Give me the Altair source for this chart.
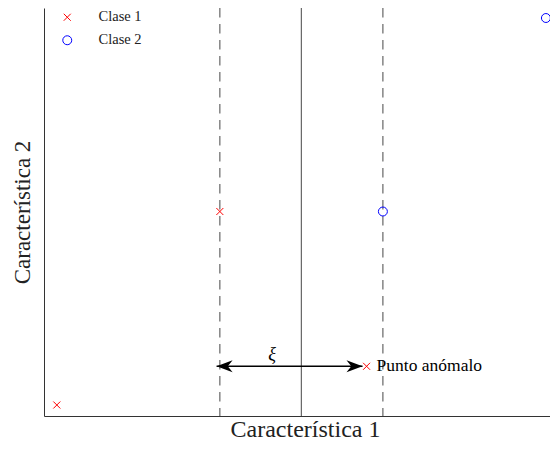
import altair as alt
import pandas as pd

# data
cls_names = ["Clase 1", "Clase 1", "Clase 1", "Clase 2", "Clase 2"]
pts_x = [0.0, 1.0, 1.9, 2.0, 3.0]
pts_y = [0.0, 1.0, 0.2, 1.0, 2.0]

vlines_x = [1.0, 1.5, 2.0]
vlines_style = ["dashed", "solid", "dashed"]

arrow_x = [0.98, 1.875]
arrow_y = [0.2, 0.2]
arrow_angle = [180, 0]

xi_x, xi_y = [1.32], [0.26]
anom_x, anom_y = [1.9], [0.2]

X_DOM = [-0.0786, 3.025]
Y_DOM = [-0.0568, 2.0517]
FONT = "Liberation Serif"

pts = pd.DataFrame({"x": pts_x, "y": pts_y, "cls": cls_names})
vl = pd.DataFrame({"x": vlines_x, "style": vlines_style})
arr = pd.DataFrame({"x": arrow_x, "y": arrow_y, "angle": arrow_angle})
xi = pd.DataFrame({"x": xi_x, "y": xi_y, "t": ["ξ"]})
an = pd.DataFrame({"x": anom_x, "y": anom_y, "t": ["Punto anómalo"]})

xs = alt.Scale(domain=X_DOM, nice=False, zero=False)
ys = alt.Scale(domain=Y_DOM, nice=False, zero=False)

xax = alt.Axis(title="Característica 1", ticks=False, labels=False, grid=False,
               domainColor="#333333", domainWidth=1, titleFont=FONT, titleFontSize=24,
               titleFontWeight="normal", titleColor="#222222", titleBaseline="alphabetic",
               titlePadding=20, titleX=261)
yax = alt.Axis(title="Característica 2", ticks=False, labels=False, grid=False,
               domainColor="#333333", domainWidth=1, titleFont=FONT, titleFontSize=23,
               titleFontWeight="normal", titleColor="#222222", titlePadding=10)

rules = alt.Chart(vl).mark_rule(color="#666666", strokeWidth=1.2).encode(
    x=alt.X("x:Q", scale=xs, axis=xax),
    strokeDash=alt.StrokeDash("style:N", scale=alt.Scale(domain=["dashed", "solid"], range=[[9.5, 6.5], [1, 0]]), legend=None),
)

arrow_line = alt.Chart(arr).mark_line(color="black", strokeWidth=1.5).encode(
    x=alt.X("x:Q", scale=xs), y=alt.Y("y:Q", scale=ys, axis=yax)
)
arrow_heads = alt.Chart(arr).mark_point(
    shape="M0,0L-2,-0.75L-1.4,0L-2,0.75Z", filled=True, color="black", size=256, opacity=1
).encode(x=alt.X("x:Q", scale=xs), y=alt.Y("y:Q", scale=ys), angle=alt.Angle("angle:Q", scale=None))

points = alt.Chart(pts).mark_point(filled=False, strokeWidth=1, opacity=1).encode(
    x=alt.X("x:Q", scale=xs),
    y=alt.Y("y:Q", scale=ys),
    color=alt.Color("cls:N", scale=alt.Scale(domain=["Clase 1", "Clase 2"], range=["#ff0000", "#0000ff"]),
                    legend=alt.Legend(title=None, orient="none", legendX=16, legendY=2,
                                      labelFont=FONT, labelFontSize=14.5, labelColor="#222222",
                                      symbolStrokeWidth=1, rowPadding=8, labelOffset=24, padding=0)),
    shape=alt.Shape("cls:N", scale=alt.Scale(domain=["Clase 1", "Clase 2"],
                                             range=["M-1,-1L1,1M-1,1L1,-1", "circle"]), legend=None),
    size=alt.Size("cls:N", scale=alt.Scale(domain=["Clase 1", "Clase 2"], range=[49, 80]), legend=None),
)

xi_text = alt.Chart(xi).mark_text(font=FONT, fontSize=18, fontStyle="italic", color="black").encode(
    x=alt.X("x:Q", scale=xs), y=alt.Y("y:Q", scale=ys), text="t:N")
an_text = alt.Chart(an).mark_text(font=FONT, fontSize=17.5, align="left", dx=10, color="black").encode(
    x=alt.X("x:Q", scale=xs), y=alt.Y("y:Q", scale=ys), text="t:N")

chart = alt.layer(rules, arrow_line, arrow_heads, points, xi_text, an_text).properties(
    width=506, height=408,
    autosize=alt.AutoSizeParams(type="none"),
    padding={"left": 36, "top": 0, "right": 0, "bottom": 26},
).configure_view(stroke=None)

chart.save("out.html", embed_options={"renderer": "svg", "actions": False})
